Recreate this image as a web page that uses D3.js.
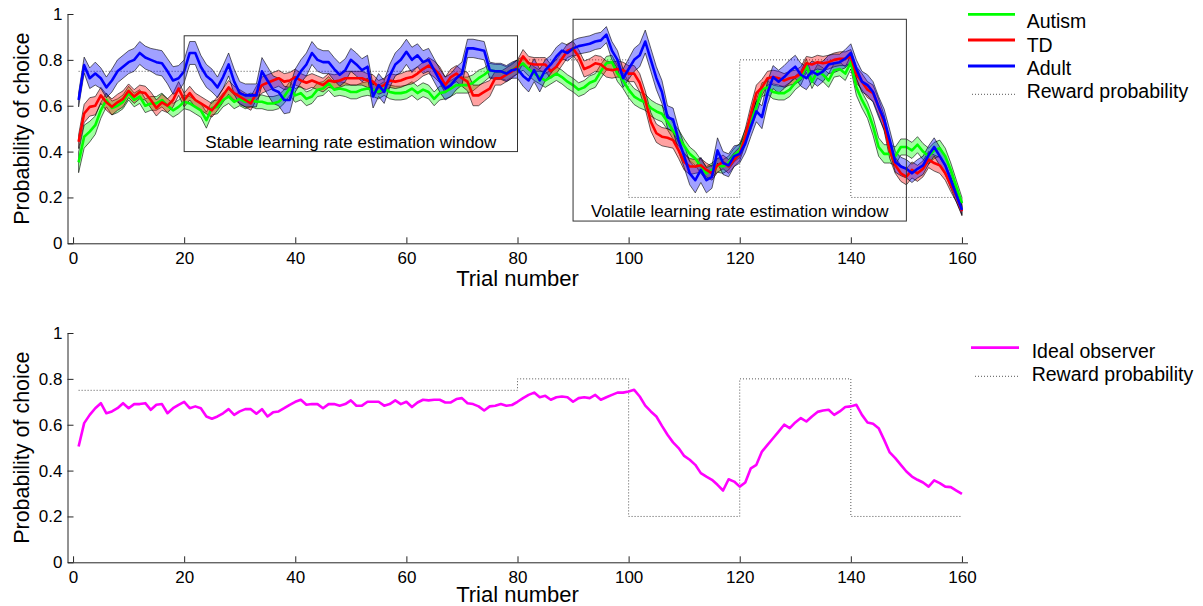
<!DOCTYPE html>
<html>
<head>
<meta charset="utf-8">
<script src="https://cdn.jsdelivr.net/npm/d3@7/dist/d3.min.js"></script>
<style>
    body { margin: 0; background: #fff; }
    svg { font-family: "Liberation Sans", Arial, sans-serif; }
    .axis path, .axis line { stroke: #262626; stroke-width: 1; }
    .axis text { font-size: 17px; fill: #000; }
    .axisLabel { font-size: 22px; fill: #000; }
    .legendText { font-size: 19.5px; fill: #000; }
    .windowText { font-size: 17px; fill: #000; }
    .windowBox { fill: none; stroke: #333; stroke-width: 1; }
    .reward { fill: none; stroke: #555; stroke-width: 1; stroke-dasharray: 1,2; }
    .band { stroke: #000; stroke-width: 0.7; stroke-opacity: 0.85; fill-opacity: 0.37; }
    .series { fill: none; stroke-width: 2.6; stroke-linejoin: round; }
</style>
</head>
<body>
<div id="chart"></div>
<script>

// trial numbers 1..160
var trials = d3.range(1, 161);

var xTicks = [0, 20, 40, 60, 80, 100, 120, 140, 160];
var yTicks = [0, 0.2, 0.4, 0.6, 0.8, 1];

// reward probability schedule: change points and the level held after each one
var rewardTrials = [1, 80, 100, 120, 140, 160];
var rewardLevels = [0.75, 0.8, 0.2, 0.8, 0.2];

var groupNames = ["Autism", "TD", "Adult"];

var autismMean = [
    0.353, 0.465, 0.487, 0.515, 0.58, 0.625, 0.59, 0.6, 0.617, 0.655,
    0.625, 0.64, 0.6, 0.61, 0.61, 0.625, 0.6, 0.58, 0.595, 0.617,
    0.61, 0.595, 0.58, 0.537, 0.59, 0.595, 0.625, 0.64, 0.617, 0.63,
    0.617, 0.625, 0.617, 0.617, 0.61, 0.61, 0.617, 0.64, 0.675, 0.645,
    0.655, 0.63, 0.64, 0.67, 0.675, 0.697, 0.67, 0.675, 0.67, 0.66,
    0.66, 0.67, 0.675, 0.67, 0.66, 0.675, 0.66, 0.655, 0.655, 0.66,
    0.675, 0.655, 0.67, 0.66, 0.63, 0.655, 0.66, 0.675, 0.69, 0.69,
    0.69, 0.70, 0.72, 0.735, 0.755, 0.75, 0.75, 0.74, 0.755, 0.77,
    0.785, 0.76, 0.74, 0.725, 0.71, 0.725, 0.74, 0.725, 0.705, 0.69,
    0.67, 0.68, 0.70, 0.71, 0.75, 0.785, 0.79, 0.74, 0.71, 0.67,
    0.64, 0.625, 0.615, 0.59, 0.575, 0.565, 0.53, 0.49, 0.46, 0.425,
    0.39, 0.37, 0.335, 0.305, 0.32, 0.34, 0.335, 0.35, 0.385, 0.405,
    0.465, 0.525, 0.595, 0.67, 0.68, 0.66, 0.655, 0.655, 0.67, 0.70,
    0.72, 0.775, 0.705, 0.75, 0.735, 0.71, 0.755, 0.76, 0.74, 0.79,
    0.68, 0.625, 0.58, 0.51, 0.42, 0.39, 0.39, 0.38, 0.42, 0.42,
    0.405, 0.43, 0.40, 0.38, 0.405, 0.415, 0.38, 0.32, 0.245, 0.175
];
var autismSem = [
    0.045, 0.05, 0.045, 0.04, 0.035, 0.03, 0.03, 0.03, 0.03, 0.03,
    0.03, 0.03, 0.03, 0.03, 0.03, 0.03, 0.03, 0.03, 0.03, 0.03,
    0.03, 0.03, 0.03, 0.035, 0.03, 0.03, 0.03, 0.03, 0.03, 0.03,
    0.03, 0.03, 0.03, 0.03, 0.03, 0.03, 0.03, 0.03, 0.03, 0.03,
    0.03, 0.03, 0.03, 0.03, 0.03, 0.03, 0.03, 0.03, 0.03, 0.03,
    0.03, 0.03, 0.03, 0.03, 0.03, 0.03, 0.03, 0.03, 0.03, 0.03,
    0.03, 0.03, 0.03, 0.03, 0.03, 0.03, 0.03, 0.035, 0.035, 0.035,
    0.035, 0.035, 0.035, 0.03, 0.03, 0.03, 0.03, 0.03, 0.03, 0.03,
    0.03, 0.03, 0.03, 0.03, 0.03, 0.03, 0.03, 0.03, 0.03, 0.03,
    0.03, 0.03, 0.03, 0.03, 0.03, 0.03, 0.03, 0.035, 0.035, 0.035,
    0.035, 0.035, 0.035, 0.035, 0.035, 0.035, 0.035, 0.035, 0.035, 0.03,
    0.03, 0.03, 0.03, 0.03, 0.03, 0.03, 0.03, 0.03, 0.03, 0.03,
    0.03, 0.03, 0.03, 0.03, 0.03, 0.03, 0.03, 0.03, 0.03, 0.03,
    0.03, 0.03, 0.03, 0.03, 0.03, 0.03, 0.03, 0.03, 0.03, 0.03,
    0.035, 0.035, 0.035, 0.04, 0.04, 0.04, 0.04, 0.04, 0.035, 0.035,
    0.035, 0.035, 0.035, 0.035, 0.035, 0.035, 0.035, 0.03, 0.03, 0.025
];

var tdMean = [
    0.443, 0.566, 0.595, 0.6, 0.645, 0.615, 0.595, 0.615, 0.63, 0.665,
    0.64, 0.66, 0.655, 0.625, 0.59, 0.615, 0.6, 0.625, 0.675, 0.625,
    0.655, 0.625, 0.61, 0.595, 0.58, 0.61, 0.645, 0.68, 0.655, 0.64,
    0.625, 0.61, 0.655, 0.69, 0.70, 0.71, 0.72, 0.705, 0.71, 0.725,
    0.71, 0.70, 0.71, 0.70, 0.69, 0.71, 0.705, 0.71, 0.72, 0.72,
    0.72, 0.72, 0.71, 0.705, 0.68, 0.69, 0.71, 0.705, 0.71, 0.72,
    0.725, 0.74, 0.76, 0.775, 0.76, 0.735, 0.69, 0.725, 0.74, 0.72,
    0.705, 0.645, 0.645, 0.66, 0.675, 0.72, 0.72, 0.735, 0.75, 0.77,
    0.815, 0.785, 0.78, 0.78, 0.78, 0.75, 0.77, 0.805, 0.84, 0.85,
    0.815, 0.76, 0.77, 0.785, 0.78, 0.76, 0.755, 0.76, 0.755, 0.74,
    0.74, 0.70, 0.625, 0.53, 0.48, 0.465, 0.46, 0.45, 0.405, 0.355,
    0.335, 0.335, 0.34, 0.32, 0.305, 0.34, 0.355, 0.335, 0.365, 0.39,
    0.465, 0.565, 0.655, 0.68, 0.72, 0.725, 0.72, 0.71, 0.72, 0.725,
    0.74, 0.785, 0.78, 0.79, 0.785, 0.79, 0.80, 0.805, 0.805, 0.815,
    0.735, 0.705, 0.67, 0.655, 0.595, 0.525, 0.405, 0.34, 0.305, 0.29,
    0.32, 0.305, 0.325, 0.365, 0.35, 0.34, 0.305, 0.255, 0.205, 0.14
];
var tdSem = [
    0.03, 0.04, 0.04, 0.04, 0.035, 0.035, 0.035, 0.035, 0.035, 0.03,
    0.03, 0.03, 0.03, 0.035, 0.035, 0.035, 0.03, 0.03, 0.03, 0.03,
    0.03, 0.03, 0.03, 0.03, 0.03, 0.03, 0.03, 0.03, 0.03, 0.03,
    0.03, 0.03, 0.03, 0.035, 0.035, 0.035, 0.035, 0.035, 0.035, 0.035,
    0.03, 0.03, 0.03, 0.03, 0.03, 0.03, 0.03, 0.03, 0.03, 0.03,
    0.03, 0.03, 0.03, 0.03, 0.03, 0.03, 0.03, 0.03, 0.03, 0.03,
    0.03, 0.03, 0.03, 0.035, 0.035, 0.035, 0.035, 0.035, 0.035, 0.035,
    0.04, 0.045, 0.045, 0.04, 0.035, 0.03, 0.03, 0.03, 0.03, 0.03,
    0.03, 0.03, 0.03, 0.03, 0.03, 0.03, 0.03, 0.03, 0.03, 0.03,
    0.03, 0.035, 0.035, 0.035, 0.035, 0.035, 0.035, 0.035, 0.035, 0.035,
    0.035, 0.04, 0.04, 0.04, 0.04, 0.04, 0.04, 0.035, 0.035, 0.035,
    0.035, 0.03, 0.03, 0.03, 0.03, 0.03, 0.03, 0.03, 0.03, 0.03,
    0.035, 0.035, 0.035, 0.035, 0.03, 0.03, 0.03, 0.03, 0.03, 0.03,
    0.03, 0.03, 0.03, 0.03, 0.03, 0.03, 0.03, 0.03, 0.03, 0.03,
    0.035, 0.035, 0.035, 0.035, 0.035, 0.035, 0.035, 0.035, 0.035, 0.035,
    0.035, 0.035, 0.035, 0.035, 0.035, 0.035, 0.03, 0.03, 0.025, 0.02
];

var adultMean = [
    0.625, 0.777, 0.72, 0.74, 0.72, 0.68, 0.71, 0.75, 0.77, 0.79,
    0.8, 0.83, 0.81, 0.8, 0.79, 0.785, 0.75, 0.71, 0.72, 0.75,
    0.83, 0.83, 0.77, 0.73, 0.71, 0.68, 0.725, 0.78, 0.705, 0.655,
    0.645, 0.645, 0.645, 0.75, 0.71, 0.67, 0.66, 0.625, 0.625, 0.71,
    0.75, 0.78, 0.83, 0.8, 0.79, 0.79, 0.76, 0.735, 0.755, 0.8,
    0.78, 0.755, 0.77, 0.64, 0.69, 0.66, 0.73, 0.78, 0.80, 0.835,
    0.80, 0.82, 0.79, 0.80, 0.755, 0.71, 0.675, 0.69, 0.72, 0.74,
    0.85, 0.85, 0.845, 0.84, 0.755, 0.75, 0.75, 0.74, 0.755, 0.76,
    0.73, 0.71, 0.755, 0.71, 0.755, 0.78, 0.815, 0.84, 0.83, 0.85,
    0.86, 0.865, 0.87, 0.88, 0.885, 0.91, 0.84, 0.80, 0.72, 0.76,
    0.80, 0.82, 0.88, 0.80, 0.72, 0.66, 0.55, 0.54, 0.45, 0.38,
    0.305, 0.275, 0.32, 0.275, 0.29, 0.405, 0.35, 0.34, 0.38, 0.39,
    0.435, 0.51, 0.575, 0.55, 0.655, 0.725, 0.705, 0.725, 0.75, 0.77,
    0.735, 0.72, 0.75, 0.735, 0.75, 0.78, 0.785, 0.79, 0.805, 0.83,
    0.76, 0.705, 0.69, 0.66, 0.595, 0.54, 0.45, 0.355, 0.335, 0.325,
    0.305, 0.325, 0.34, 0.385, 0.42, 0.38, 0.34, 0.275, 0.21, 0.145
];
var adultSem = [
    0.03, 0.035, 0.045, 0.05, 0.045, 0.045, 0.05, 0.05, 0.05, 0.05,
    0.05, 0.05, 0.05, 0.05, 0.055, 0.055, 0.055, 0.06, 0.055, 0.05,
    0.05, 0.05, 0.05, 0.05, 0.05, 0.045, 0.05, 0.05, 0.055, 0.05,
    0.05, 0.05, 0.05, 0.06, 0.06, 0.06, 0.06, 0.06, 0.055, 0.05,
    0.05, 0.05, 0.05, 0.05, 0.05, 0.05, 0.05, 0.05, 0.05, 0.05,
    0.05, 0.05, 0.05, 0.05, 0.05, 0.05, 0.05, 0.05, 0.055, 0.055,
    0.055, 0.05, 0.05, 0.05, 0.05, 0.05, 0.05, 0.05, 0.05, 0.05,
    0.04, 0.04, 0.04, 0.04, 0.035, 0.035, 0.035, 0.035, 0.035, 0.04,
    0.045, 0.05, 0.05, 0.05, 0.045, 0.04, 0.04, 0.035, 0.035, 0.035,
    0.035, 0.035, 0.035, 0.035, 0.035, 0.035, 0.04, 0.04, 0.04, 0.045,
    0.05, 0.05, 0.05, 0.05, 0.05, 0.05, 0.05, 0.05, 0.05, 0.05,
    0.05, 0.055, 0.055, 0.055, 0.05, 0.055, 0.05, 0.05, 0.045, 0.04,
    0.04, 0.045, 0.045, 0.05, 0.05, 0.05, 0.05, 0.05, 0.05, 0.05,
    0.05, 0.05, 0.045, 0.05, 0.045, 0.04, 0.04, 0.035, 0.04, 0.04,
    0.04, 0.045, 0.045, 0.045, 0.045, 0.045, 0.045, 0.045, 0.04, 0.04,
    0.04, 0.04, 0.04, 0.04, 0.04, 0.04, 0.04, 0.035, 0.03, 0.02
];

var idealObserver = [
    0.505, 0.607, 0.643, 0.672, 0.694, 0.65, 0.658, 0.672, 0.694, 0.672,
    0.69, 0.69, 0.694, 0.665, 0.687, 0.69, 0.65, 0.672, 0.687, 0.70,
    0.672, 0.68, 0.672, 0.636, 0.626, 0.636, 0.65, 0.668, 0.643, 0.658,
    0.668, 0.668, 0.648, 0.668, 0.636, 0.654, 0.658, 0.672, 0.687, 0.70,
    0.709, 0.687, 0.69, 0.69, 0.672, 0.69, 0.69, 0.683, 0.69, 0.706,
    0.683, 0.683, 0.70, 0.70, 0.70, 0.683, 0.69, 0.706, 0.69, 0.70,
    0.677, 0.697, 0.709, 0.706, 0.709, 0.709, 0.697, 0.697, 0.712, 0.716,
    0.694, 0.69, 0.68, 0.662, 0.68, 0.683, 0.69, 0.683, 0.686, 0.70,
    0.716, 0.73, 0.74, 0.72, 0.726, 0.709, 0.72, 0.723, 0.72, 0.70,
    0.716, 0.72, 0.716, 0.73, 0.709, 0.72, 0.73, 0.74, 0.74, 0.745,
    0.752, 0.723, 0.683, 0.658, 0.636, 0.595, 0.556, 0.523, 0.498, 0.464,
    0.447, 0.425, 0.389, 0.374, 0.36, 0.338, 0.313, 0.362, 0.352, 0.33,
    0.348, 0.41, 0.425, 0.483, 0.512, 0.541, 0.57, 0.6, 0.585, 0.61,
    0.629, 0.614, 0.636, 0.656, 0.662, 0.665, 0.643, 0.658, 0.677, 0.68,
    0.687, 0.643, 0.61, 0.604, 0.585, 0.534, 0.479, 0.454, 0.425, 0.396,
    0.374, 0.36, 0.348, 0.33, 0.357, 0.345, 0.33, 0.328, 0.313, 0.298
];

// estimation windows drawn on the top panel: [first trial, last trial], [low, high]
var stableWindow = {trials: [20, 80], range: [0.4, 0.905], label: "Stable learning rate estimation window"};
var volatileWindow = {trials: [90, 150], range: [0.097, 0.977], label: "Volatile learning rate estimation window"};

var colors = {Autism: "#00ff00", TD: "#ff0000", Adult: "#0000ff", ideal: "#ff00ff"};

/**
 * One probability-of-choice panel: axes, labels and helpers for the marks
 */
function ChoicePanel(svg, baseY, labelGap){
    var self = this;
    self.svg = svg;
    self.baseY = baseY;
    self.labelGap = labelGap;
    self.init();
}

ChoicePanel.prototype.init = function(){
    var self = this;

    self.xScale = d3.scaleLinear()
        .domain([-1, 161])
        .range([67.5, 967.5]);

    self.yScale = d3.scaleLinear()
        .domain([0, 1])
        .range([self.baseY, self.baseY - 229.3]);

    self.g = self.svg.append("g");

    // MATLAB style: ticks point into the plot, no box
    var xAxis = d3.axisBottom(self.xScale)
        .tickValues(xTicks)
        .tickSizeInner(-6)
        .tickSizeOuter(0)
        .tickPadding(8.5);

    var yAxis = d3.axisLeft(self.yScale)
        .tickValues(yTicks)
        .tickFormat(function(d){ return String(d); })
        .tickSizeInner(-6)
        .tickSizeOuter(0)
        .tickPadding(5);

    self.g.append("g")
        .attr("class", "axis")
        .attr("transform", "translate(0," + self.baseY + ")")
        .call(xAxis);

    self.g.append("g")
        .attr("class", "axis")
        .attr("transform", "translate(67.5,0)")
        .call(yAxis);

    self.g.selectAll(".axis").attr("font-size", null).attr("font-family", null);

    self.g.append("text")
        .attr("class", "axisLabel")
        .attr("x", (67.5 + 967.5) / 2)
        .attr("y", self.baseY + self.labelGap)
        .attr("text-anchor", "middle")
        .text("Trial number");

    self.g.append("text")
        .attr("class", "axisLabel")
        .attr("transform", "translate(29," + (self.baseY - 229.3 / 2) + ") rotate(-90)")
        .attr("text-anchor", "middle")
        .style("font-size", "21.5px")
        .text("Probability of choice");

    self.layer = self.g.append("g");
};

/**
 * Dotted step line of the reward probability schedule
 */
ChoicePanel.prototype.drawReward = function(){
    var self = this;
    var steps = rewardTrials.map(function(t, i){
        return {t: t, p: rewardLevels[Math.min(i, rewardLevels.length - 1)]};
    });
    var line = d3.line()
        .curve(d3.curveStepAfter)
        .x(function(d){ return self.xScale(d.t); })
        .y(function(d){ return self.yScale(d.p); });
    self.layer.append("path")
        .datum(steps)
        .attr("class", "reward")
        .attr("d", line);
};

/**
 * Shaded mean +/- sem band
 */
ChoicePanel.prototype.drawBand = function(mean, sem, color){
    var self = this;
    var area = d3.area()
        .x(function(d, i){ return self.xScale(trials[i]); })
        .y0(function(d, i){ return self.yScale(mean[i] - sem[i]); })
        .y1(function(d, i){ return self.yScale(mean[i] + sem[i]); });
    self.layer.append("path")
        .datum(mean)
        .attr("class", "band")
        .attr("fill", color)
        .attr("d", area);
};

ChoicePanel.prototype.drawLine = function(values, color){
    var self = this;
    var line = d3.line()
        .x(function(d, i){ return self.xScale(trials[i]); })
        .y(function(d){ return self.yScale(d); });
    self.layer.append("path")
        .datum(values)
        .attr("class", "series")
        .attr("stroke", color)
        .attr("d", line);
};

ChoicePanel.prototype.drawWindow = function(win, textOffset){
    var self = this;
    var x0 = self.xScale(win.trials[0]), x1 = self.xScale(win.trials[1]);
    var y0 = self.yScale(win.range[1]), y1 = self.yScale(win.range[0]);
    self.layer.append("rect")
        .attr("class", "windowBox")
        .attr("x", x0)
        .attr("y", y0)
        .attr("width", x1 - x0)
        .attr("height", y1 - y0);
    self.layer.append("text")
        .attr("class", "windowText")
        .attr("x", (x0 + x1) / 2)
        .attr("y", y1 - textOffset)
        .attr("text-anchor", "middle")
        .text(win.label);
};

/**
 * Legend to the right of the axes; rows are laid out by the caller
 */
ChoicePanel.prototype.drawLegend = function(items, lineX, textX, lineYs, textYs){
    var self = this;
    var legend = self.svg.append("g");
    items.forEach(function(item, i){
        var l = legend.append("line")
            .attr("x1", lineX[0])
            .attr("x2", lineX[1])
            .attr("y1", lineYs[i])
            .attr("y2", lineYs[i]);
        if (item.dotted) {
            l.attr("class", "reward").attr("x1", lineX[0] + 4);
        } else {
            l.attr("stroke", item.color).attr("stroke-width", 2.8);
        }
        legend.append("text")
            .attr("class", "legendText")
            .attr("x", textX)
            .attr("y", textYs[i])
            .text(item.name);
    });
};

var svg = d3.select("#chart").append("svg")
    .attr("width", 1203)
    .attr("height", 606);

// top panel: three groups with sem bands
var topPanel = new ChoicePanel(svg, 243.3, 42.5);
topPanel.drawReward();
var means = [autismMean, tdMean, adultMean];
var sems = [autismSem, tdSem, adultSem];
groupNames.forEach(function(name, i){
    topPanel.drawBand(means[i], sems[i], colors[name]);
});
groupNames.forEach(function(name, i){
    topPanel.drawLine(means[i], colors[name]);
});
topPanel.drawWindow(stableWindow, 3.8);
topPanel.drawWindow(volatileWindow, 4.3);

var topItems = groupNames.map(function(name){ return {name: name, color: colors[name]}; });
topItems.push({name: "Reward probability", dotted: true});
topPanel.drawLegend(topItems, [968, 1015], 1026.7, [14.3, 40, 66, 94.3], [28.3, 51.7, 75, 97.5]);

// bottom panel: ideal observer model
var bottomPanel = new ChoicePanel(svg, 562.3, 39.5);
bottomPanel.drawReward();
bottomPanel.drawLine(idealObserver, colors.ideal);
bottomPanel.drawLegend([{name: "Ideal observer", color: colors.ideal}, {name: "Reward probability", dotted: true}],
    [971, 1019], 1031.7, [347.7, 376.3], [358.3, 381]);

</script>
</body>
</html>
